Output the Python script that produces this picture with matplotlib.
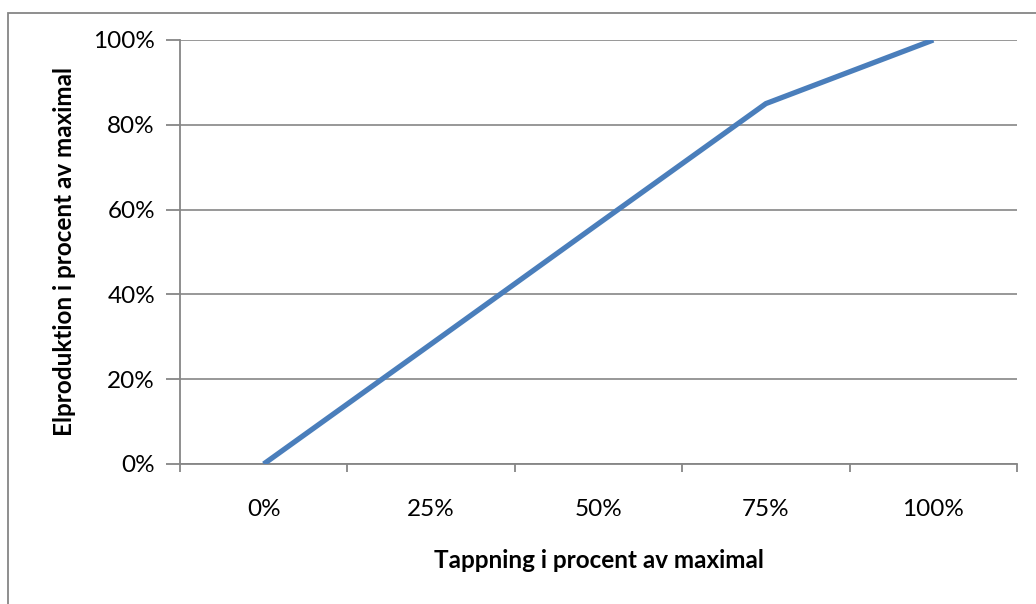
import matplotlib.pyplot as plt
from matplotlib.patches import Rectangle
from matplotlib.ticker import FixedLocator, PercentFormatter

# data (category axis)
categories = ["0%", "25%", "50%", "75%", "100%"]
elproduktion = [0, 28.3, 56.7, 85, 100]

grey = "#868686"
blue = "#4A7EBB"

plt.rcParams["font.family"] = ["Lato", "DejaVu Sans"]

fig = plt.figure(figsize=(10.36, 6.04), dpi=100)
ax = fig.add_axes([180 / 1036, 1 - 464 / 604, (1017 - 180) / 1036, (464 - 40) / 604])

# outer chart border (right/bottom fall outside the image)
fig.patches.append(Rectangle((8 / 1036, -0.1), 1.2, 1 - 13 / 604 + 0.1,
                             transform=fig.transFigure, fill=False,
                             edgecolor=grey, lw=1.3))

x = list(range(len(categories)))
ax.plot(x, elproduktion, color=blue, lw=3.8, solid_capstyle="butt", zorder=3)

ax.set_xlim(-0.5, len(categories) - 0.5)
ax.set_ylim(0, 100)

ax.set_yticks(range(0, 101, 20))
ax.yaxis.set_major_formatter(PercentFormatter(decimals=0))
ax.grid(axis="y", color=grey, lw=1.2)
ax.set_axisbelow(True)

# tick marks on the category borders, labels in the middle
ax.xaxis.set_major_locator(FixedLocator([i - 0.5 for i in range(len(categories) + 1)]))
ax.xaxis.set_major_formatter(plt.NullFormatter())
ax.xaxis.set_minor_locator(FixedLocator(x))
ax.set_xticklabels(categories, minor=True)
ax.tick_params(axis="x", which="major", direction="out", length=6, width=1.3, color=grey)
ax.tick_params(axis="x", which="minor", length=0, pad=25, labelsize=17.5)
ax.tick_params(axis="y", direction="out", length=10, width=1.3, color=grey, pad=8, labelsize=17.5)

for s in ["top", "right"]:
    ax.spines[s].set_visible(False)
for s in ["left", "bottom"]:
    ax.spines[s].set_color(grey)
    ax.spines[s].set_linewidth(1.3)

ax.set_xlabel("Tappning i procent av maximal", fontsize=17.5, fontweight="bold", labelpad=21)
ax.set_ylabel("Elproduktion i procent av maximal", fontsize=17.5, fontweight="bold", labelpad=12)

fig.savefig("out.png", dpi=100)
